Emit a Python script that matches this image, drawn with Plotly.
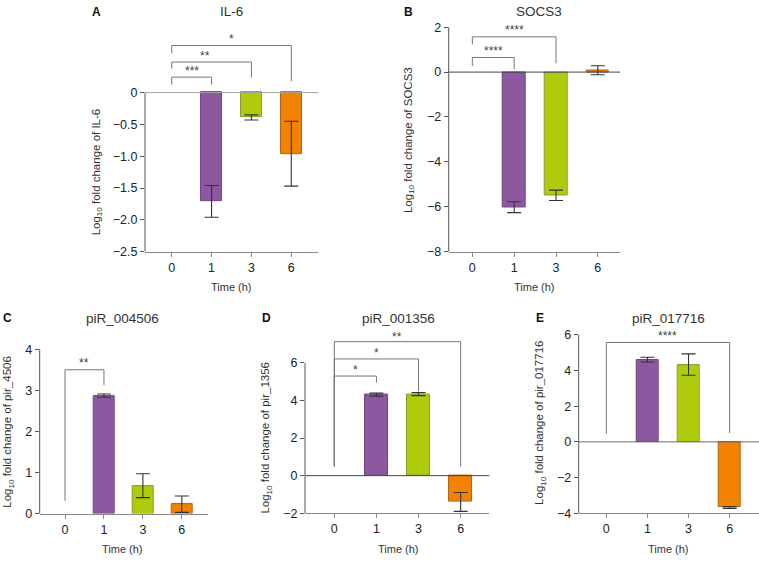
import plotly.graph_objects as go

W, H = 759, 563

# ---------------- data ----------------
time_labels = ["0", "1", "3", "6"]

il6_mean = [0, -1.71, -0.39, -0.96]
il6_err = [0, 0.25, 0.04, 0.51]
socs3_mean = [0, -6.02, -5.49, 0.08]
socs3_err = [0, 0.24, 0.23, 0.20]
pir4506_mean = [0, 2.87, 0.68, 0.23]
pir4506_err = [0, 0.04, 0.29, 0.20]
pir1356_mean = [0, 4.31, 4.34, -1.40]
pir1356_err = [0, 0.08, 0.08, 0.50]
pir17716_mean = [0, 4.61, 4.33, -3.68]
pir17716_err = [0, 0.13, 0.60, 0.05]

il6_yticks = [0, -0.5, -1.0, -1.5, -2.0, -2.5]
socs3_yticks = [2, 0, -2, -4, -6, -8]
pir4506_yticks = [0, 1, 2, 3, 4]
pir1356_yticks = [-2, 0, 2, 4, 6]
pir17716_yticks = [-4, -2, 0, 2, 4, 6]

# significance comparisons: (from index, to index, label)
il6_sig = [(0, 1, "***"), (0, 2, "**"), (0, 3, "*")]
socs3_sig = [(0, 1, "****"), (0, 2, "****")]
pir4506_sig = [(0, 1, "**")]
pir1356_sig = [(0, 1, "*"), (0, 2, "*"), (0, 3, "**")]
pir17716_sig = [(0, 3, "****")]

# ---------------- styling / layout ----------------
bar_colors = ["#8e58a0", "#8e58a0", "#afcb0b", "#f28200"]
edge_colors = ["#6b4a7d", "#6b4a7d", "#8c9a3a", "#b0661a"]

# bracket geometry per comparison: (bar y, left leg end, right leg end, label y, label x)
panels = [
    dict(letter="A", title="IL-6", ytitle="Log<sub>10</sub> fold change of IL-6",
         mean=il6_mean, err=il6_err, yticks=il6_yticks, dec=1, sig=il6_sig,
         geom=[(0.243, 0.126, 0.126, 0.39, None), (0.48, 0.377, 0.238, 0.62, 0.83),
               (0.74, 0.62, 0.177, 0.885, None)],
         xpx=(145, 318), xr=(-0.67, 3.67), yr=(-2.5, 0.95), ybot=252, ppu=65.0,
         ytop=0, zc="#a0a0a0", letxy=(96, 7), titxy=(232, 7), ytxy=(97, 171), xtxy=(232, 288)),
    dict(letter="B", title="SOCS3", ytitle="Log<sub>10</sub> fold change of SOCS3",
         mean=socs3_mean, err=socs3_err, yticks=socs3_yticks, dec=0, sig=socs3_sig,
         geom=[(0.65, 0.27, 0.14, 1.09, None), (1.57, 1.23, 0.39, 1.99, None)],
         xpx=(448.7, 620), xr=(-0.565, 3.53), yr=(-8, 2.3), ybot=252, ppu=22.93,
         ytop=2, zc="#444444", letxy=(409, 7), titxy=(539, 7), ytxy=(409, 138), xtxy=(534, 288)),
    dict(letter="C", title="piR_004506", ytitle="Log<sub>10</sub> fold change of pir_4506",
         mean=pir4506_mean, err=pir4506_err, yticks=pir4506_yticks, dec=0, sig=pir4506_sig,
         geom=[(3.5, 0.31, 3.13, 3.74, None)],
         xpx=(39.7, 208.3), xr=(-0.65, 3.68), yr=(0, 4.1), ybot=519.7, ppu=42.0,
         ytop=4, zc=None, letxy=(7, 320), titxy=(122, 320), ytxy=(8, 436), xtxy=(122, 556)),
    dict(letter="D", title="piR_001356", ytitle="Log<sub>10</sub> fold change of pir_1356",
         mean=pir1356_mean, err=pir1356_err, yticks=pir1356_yticks, dec=0, sig=pir1356_sig,
         geom=[(5.3, 0.49, 4.95, 5.78, None), (6.21, 0.49, 4.5, 6.68, None),
               (7.13, 0.49, 0.49, 7.55, None)],
         xpx=(305, 489.3), xr=(-0.696, 3.68), yr=(-2, 7.4), ybot=519.3, ppu=19.2,
         ytop=6, zc="#444444", letxy=(266, 320), titxy=(398, 320), ytxy=(266, 442), xtxy=(398, 556)),
    dict(letter="E", title="piR_017716", ytitle="Log<sub>10</sub> fold change of pir_017716",
         mean=pir17716_mean, err=pir17716_err, yticks=pir17716_yticks, dec=0, sig=pir17716_sig,
         geom=[(5.57, 0.44, 0.49, 6.12, None)],
         xpx=(578.7, 759), xr=(-0.672, 3.715), yr=(-4, 6.1), ybot=519.3, ppu=18.23,
         ytop=6, zc="#666666", letxy=(540, 320), titxy=(668, 320), ytxy=(540, 427), xtxy=(668, 556)),
]

TICKFONT = dict(family="Liberation Sans, Arial, sans-serif", size=12.5, color="#222222")
TXTFONT = "Liberation Sans, Arial, sans-serif"


def fmt(v, dec):
    if v == 0:
        return "0"
    s = f"{abs(v):.{dec}f}"
    return ("\u2212" + s) if v < 0 else s


def px_x(x):
    return x / W


def px_y(y):
    return 1 - y / H


fig = go.Figure()
annotations = []
shapes = []
xs = [0, 1, 2, 3]

for i, p in enumerate(panels, start=1):
    xid = "x" if i == 1 else f"x{i}"
    yid = "y" if i == 1 else f"y{i}"
    xkey = "xaxis" if i == 1 else f"xaxis{i}"
    ykey = "yaxis" if i == 1 else f"yaxis{i}"
    y0, y1 = p["yr"]
    ybot = p["ybot"]
    ytoppx = ybot - (y1 - y0) * p["ppu"]

    def vy(v, p=p):
        return p["ybot"] - (v - p["yr"][0]) * p["ppu"]

    # baseline (0 h) bar: zero height, no error bar
    fig.add_trace(go.Bar(
        x=xs[:1], y=p["mean"][:1], width=0.54,
        marker=dict(color=bar_colors[0], line=dict(width=0)),
        xaxis=xid, yaxis=yid, showlegend=False, hoverinfo="skip"))
    # treated time points with SD error bars
    fig.add_trace(go.Bar(
        x=xs[1:], y=p["mean"][1:], width=0.54,
        marker=dict(color=bar_colors[1:], line=dict(color=edge_colors[1:], width=1)),
        error_y=dict(type="data", array=p["err"][1:], color="#333333", thickness=1.1, width=7),
        xaxis=xid, yaxis=yid, showlegend=False, hoverinfo="skip"))

    fig.layout[xkey] = dict(
        domain=[px_x(p["xpx"][0]), px_x(p["xpx"][1])], range=list(p["xr"]),
        anchor=yid, tickvals=xs, ticktext=time_labels,
        showline=True, linecolor="#8a8a8a", linewidth=1, ticks="outside", ticklen=4,
        tickcolor="#8a8a8a", showgrid=False, zeroline=False, tickfont=TICKFONT, fixedrange=True)
    fig.layout[ykey] = dict(
        domain=[px_y(ybot), px_y(ytoppx)], range=[y0, y1], anchor=xid,
        tickvals=p["yticks"], ticktext=[fmt(v, p["dec"]) for v in p["yticks"]],
        showline=False, ticks="outside", ticklen=4, tickcolor="#555555",
        showgrid=False, zeroline=False, tickfont=TICKFONT, fixedrange=True)

    # y-axis line (only spans the tick range)
    shapes.append(dict(type="line", xref="paper", yref="paper",
                       x0=px_x(p["xpx"][0]), x1=px_x(p["xpx"][0]),
                       y0=px_y(vy(y0)), y1=px_y(vy(p["ytop"])),
                       line=dict(color="#555555", width=1)))
    # zero line
    if p["zc"] is not None:
        shapes.append(dict(type="line", xref=f"{xid} domain", yref=yid, x0=0, x1=1, y0=0, y1=0,
                           line=dict(color=p["zc"], width=1)))

    # significance brackets
    for (a, b, lab), (yb, yl, yrr, ly, lx) in zip(p["sig"], p["geom"]):
        path = f"M {a},{yl} L {a},{yb} L {b},{yb} L {b},{yrr}"
        shapes.append(dict(type="path", xref=xid, yref=yid, path=path,
                           line=dict(color="#777777", width=1)))
        mx = lx if lx is not None else (a + b) / 2
        xpix = p["xpx"][0] + (mx - p["xr"][0]) / (p["xr"][1] - p["xr"][0]) * (p["xpx"][1] - p["xpx"][0])
        annotations.append(dict(text=lab, x=px_x(xpix), y=px_y(vy(ly) + 3), xref="paper", yref="paper",
                                showarrow=False, xanchor="center", yanchor="middle",
                                font=dict(family=TXTFONT, size=12, color="#444444")))

    # panel letter, title, axis titles
    annotations.append(dict(text=f"<b>{p['letter']}</b>", x=px_x(p["letxy"][0]), y=px_y(p["letxy"][1]),
                            xref="paper", yref="paper", showarrow=False, xanchor="center", yanchor="middle",
                            font=dict(family=TXTFONT, size=12, color="#111111")))
    annotations.append(dict(text=p["title"], x=px_x(p["titxy"][0]), y=px_y(p["titxy"][1]),
                            xref="paper", yref="paper", showarrow=False, xanchor="center", yanchor="middle",
                            font=dict(family=TXTFONT, size=13.5, color="#333333")))
    annotations.append(dict(text=p["ytitle"], x=px_x(p["ytxy"][0]), y=px_y(p["ytxy"][1]),
                            xref="paper", yref="paper", showarrow=False, xanchor="center", yanchor="middle",
                            textangle=-90, font=dict(family=TXTFONT, size=11.5, color="#333333")))
    annotations.append(dict(text="Time (h)", x=px_x(p["xtxy"][0]), y=px_y(p["xtxy"][1]),
                            xref="paper", yref="paper", showarrow=False, xanchor="center", yanchor="middle",
                            font=dict(family=TXTFONT, size=11, color="#333333")))

fig.update_layout(
    width=W, height=H, margin=dict(l=0, r=0, t=0, b=0),
    paper_bgcolor="white", plot_bgcolor="white",
    annotations=annotations, shapes=shapes, bargap=0,
)

fig.write_html("out.html", config={"displayModeBar": False},
               post_script="document.body.style.margin='0px';")
